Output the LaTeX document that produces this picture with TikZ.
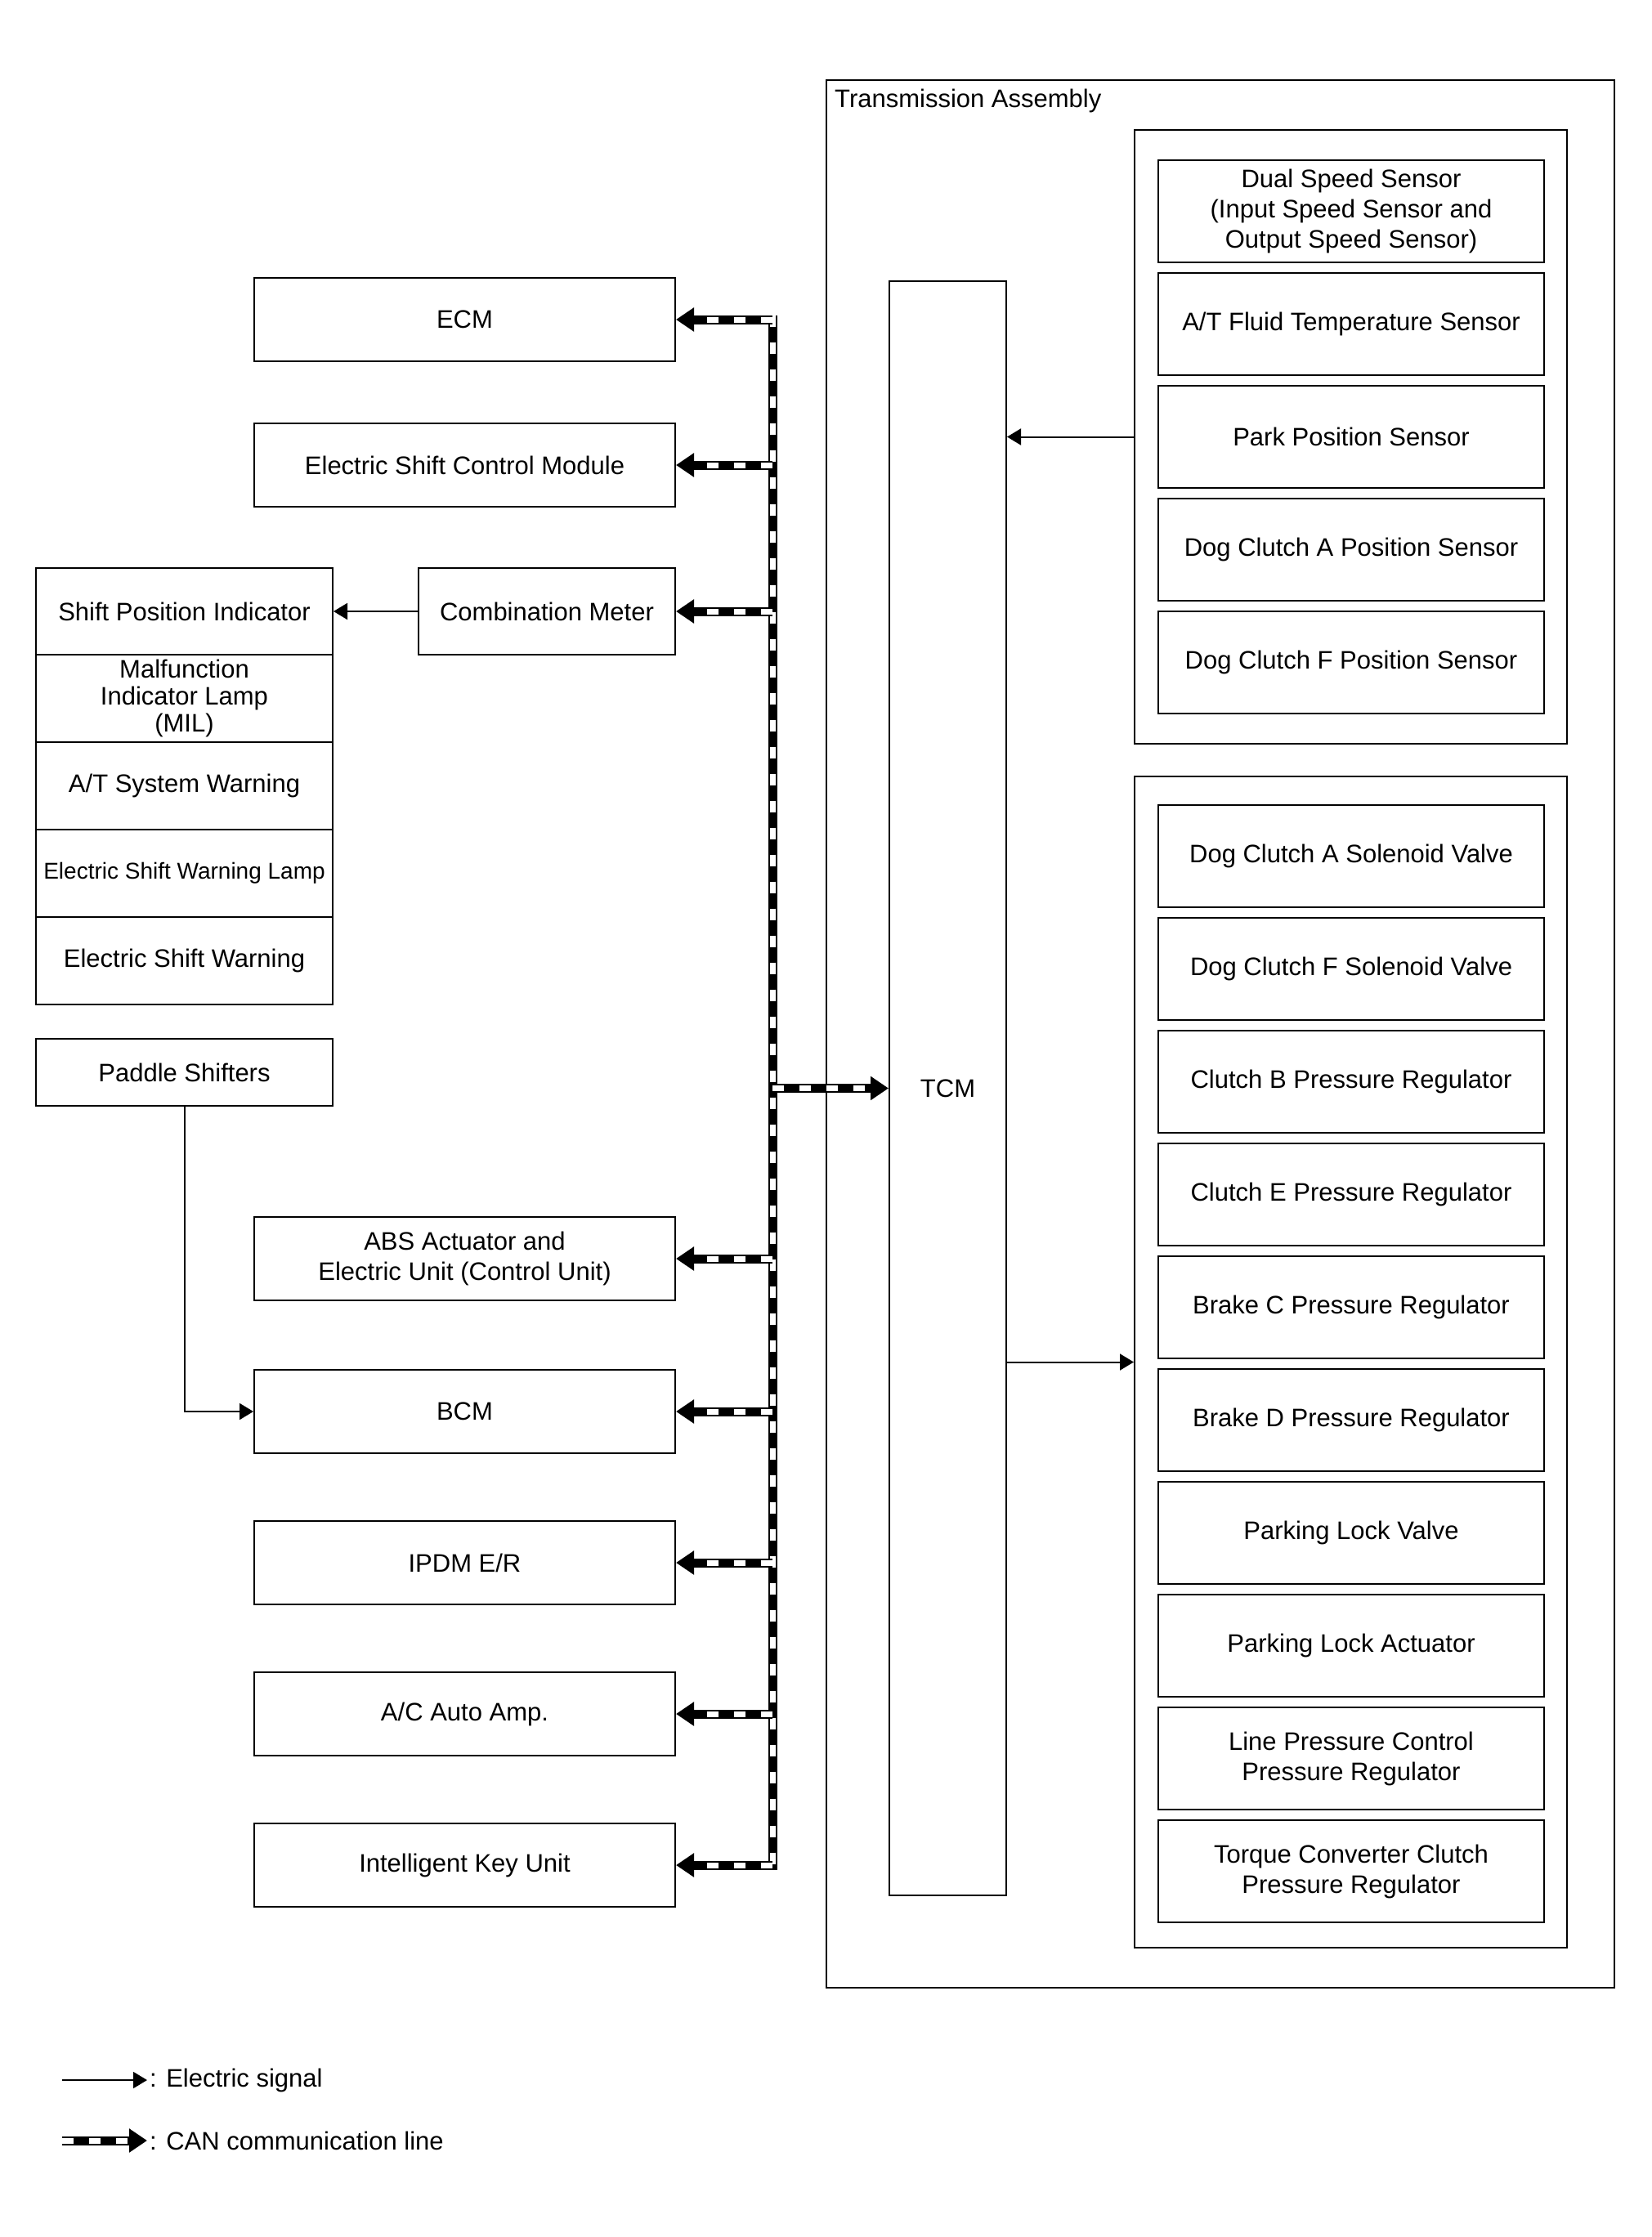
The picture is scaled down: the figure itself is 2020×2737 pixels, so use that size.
\documentclass[tikz,border=0pt]{standalone}
\usepackage{fontspec}
\setmainfont{Liberation Sans}
\usetikzlibrary{arrows.meta}

\tikzset{
  unit/.style={draw, line width=2pt, align=center, inner sep=0pt, minimum width=515pt, minimum height=102pt},
  part/.style={draw, line width=2pt, align=center, inner sep=0pt, minimum width=472pt, minimum height=125pt},
  lamp/.style={draw, line width=2pt, align=center, inner sep=0pt, minimum width=363pt, minimum height=106.8pt},
  group/.style={draw, line width=2pt, inner sep=0pt},
  sig/.style={line width=2pt, -{Triangle[length=17pt,width=20pt]}},
  can/.style={line width=11pt, -{Triangle[length=22pt,width=28pt]},
    postaction={draw=white, line width=7pt, dash pattern=on 14pt off 19pt, -, shorten >=24pt}},
  canbus/.style={line width=11pt,
    postaction={draw=white, line width=7pt, dash pattern=on 14pt off 19pt}}
}

\begin{document}
\begin{tikzpicture}[x=1pt, y=-1pt, font=\fontsize{31}{37}\selectfont]
  \useasboundingbox (0,0) rectangle (2020,2737);
  % Transmission assembly
  \node[group, minimum width=964pt, minimum height=2334pt] (ta) at (1493,1265) {};
  \node[anchor=west, inner sep=0pt] (talabel) at (1021,123) {Transmission Assembly};
  \node[group, minimum width=529pt, minimum height=751pt] (sensors) at (1652.5,534.5) {};
  \node[group, minimum width=529pt, minimum height=1433pt] (actuators) at (1652.5,1666.5) {};
  \node[group, minimum width=143pt, minimum height=1975pt] (tcm) at (1159.5,1331.5) {TCM};
  % Sensors
  \node[part] (dss) at (1653,258.5) {Dual Speed Sensor\\(Input Speed Sensor and\\Output Speed Sensor)};
  \node[part] (atf) at (1653,396.5) {A/T Fluid Temperature Sensor};
  \node[part] (pps) at (1653,534.5) {Park Position Sensor};
  \node[part] (dcaps) at (1653,672.5) {Dog Clutch A Position Sensor};
  \node[part] (dcfps) at (1653,810.5) {Dog Clutch F Position Sensor};
  % Actuators
  \node[part] (dcasv) at (1653,1047.5) {Dog Clutch A Solenoid Valve};
  \node[part] (dcfsv) at (1653,1185.5) {Dog Clutch F Solenoid Valve};
  \node[part] (cbpr) at (1653,1323.5) {Clutch B Pressure Regulator};
  \node[part] (cepr) at (1653,1461.5) {Clutch E Pressure Regulator};
  \node[part] (bcpr) at (1653,1599.5) {Brake C Pressure Regulator};
  \node[part] (bdpr) at (1653,1737.5) {Brake D Pressure Regulator};
  \node[part] (plv) at (1653,1875.5) {Parking Lock Valve};
  \node[part] (pla) at (1653,2013.5) {Parking Lock Actuator};
  \node[part] (lpcpr) at (1653,2151.5) {Line Pressure Control\\Pressure Regulator};
  \node[part] (tccpr) at (1653,2289.5) {Torque Converter Clutch\\Pressure Regulator};
  % Control units on the CAN line
  \node[unit] (ecm) at (568.5,391) {ECM};
  \node[unit] (escm) at (568.5,569) {Electric Shift Control Module};
  \node[unit, minimum width=314pt, minimum height=106pt] (cm) at (669,748) {Combination Meter};
  \node[unit] (abs) at (568.5,1540) {ABS Actuator and\\Electric Unit (Control Unit)};
  \node[unit] (bcm) at (568.5,1727) {BCM};
  \node[unit] (ipdm) at (568.5,1912) {IPDM E/R};
  \node[unit] (acamp) at (568.5,2097) {A/C Auto Amp.};
  \node[unit] (iku) at (568.5,2282) {Intelligent Key Unit};
  % Combination meter indicators
  \node[lamp] (spi) at (225.5,748) {Shift Position Indicator};
  \node[lamp, font=\fontsize{31}{33}\selectfont] (mil) at (225.5,854.8) {Malfunction\\Indicator Lamp\\(MIL)};
  \node[lamp] (atsw) at (225.5,961.6) {A/T System Warning};
  \node[lamp, font=\fontsize{28}{33}\selectfont] (eswl) at (225.5,1068.4) {Electric Shift Warning Lamp};
  \node[lamp] (esw) at (225.5,1175.2) {Electric Shift Warning};
  \node[lamp, minimum height=82pt] (paddle) at (225.5,1312) {Paddle Shifters};
  % Electric signals
  \draw[sig] (cm.west) -- (spi.east);
  \draw[sig] (paddle.south) |- (bcm.west);
  \draw[sig] (sensors.west) -- (sensors.west -| tcm.east);
  \draw[sig] (tcm.east |- actuators.west) -- (actuators.west);
  % CAN communication line
  \coordinate (bustop) at (945,391);
  \coordinate (busbot) at (945,2282);
  \draw[canbus] ([yshift=5.5pt]bustop) -- ([yshift=-5.5pt]busbot);
  \draw[can] (ecm.east -| bustop) -- (ecm.east);
  \draw[can] (escm.east -| bustop) -- (escm.east);
  \draw[can] (cm.east -| bustop) -- (cm.east);
  \draw[can] (abs.east -| bustop) -- (abs.east);
  \draw[can] (bcm.east -| bustop) -- (bcm.east);
  \draw[can] (ipdm.east -| bustop) -- (ipdm.east);
  \draw[can] (acamp.east -| bustop) -- (acamp.east);
  \draw[can] (iku.east -| bustop) -- (iku.east);
  \draw[can] (tcm.west -| bustop) -- (tcm.west);
  % Legend
  \coordinate (sigA) at (76,2545);
  \coordinate (sigB) at (180,2545);
  \draw[sig] (sigA) -- (sigB);
  \node[anchor=west, inner sep=3pt] (sigtext) at (sigB) {: Electric signal};
  \coordinate (canA) at (76,2619);
  \coordinate (canB) at (180,2619);
  \draw[can] (canA) -- (canB);
  \node[anchor=west, inner sep=3pt] (cantext) at (canB) {: CAN communication line};
\end{tikzpicture}
\end{document}
